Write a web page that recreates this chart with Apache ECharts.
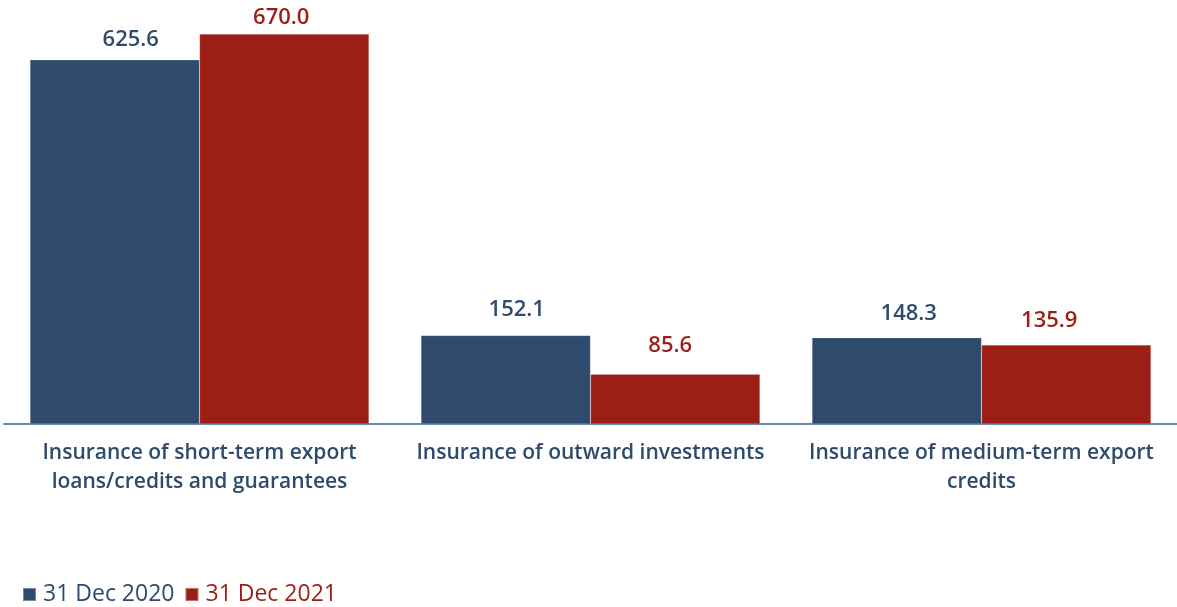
<!DOCTYPE html>
<html>
<head>
<meta charset="utf-8">
<script src="https://cdn.jsdelivr.net/npm/echarts@6/dist/echarts.min.js"></script>
<style>
  html, body { margin: 0; padding: 0; background: #ffffff; }
  #chart { width: 1177px; height: 607px; }
</style>
</head>
<body>
<div id="chart"></div>
<script>
// Insured exposure by product type
const categories = [
  'Insurance of short-term export\nloans/credits and guarantees',
  'Insurance of outward investments',
  'Insurance of medium-term export\ncredits'
];
const seriesNames = ['31 Dec 2020', '31 Dec 2021'];
const values2020 = [625.6, 152.1, 148.3];
const values2021 = [670.0, 85.6, 135.9];

const BLUE = '#2e4a6d';
const RED = '#9c1f16';
const FONT = '"Open Sans", "Noto Sans", sans-serif';

// small nudges of the value labels, per bar ([dx, dy] in px)
const labelShift2020 = [[16, -1], [11, -7], [12, -5]];
const labelShift2021 = [[-3, 3], [-5, -9], [-17, -5]];

const chart = echarts.init(document.getElementById('chart'), null, { renderer: 'canvas' });

function barSeries(name, values, shifts, color) {
  return {
    name: name,
    type: 'bar',
    data: values.map((v, i) => ({ value: v, label: { offset: shifts[i] } })),
    barGap: '0%',
    barCategoryGap: '13.3%',
    itemStyle: { color: color, borderColor: 'rgba(255,255,255,0.35)', borderWidth: 0.5 },
    label: {
      show: true,
      position: 'top',
      distance: 8,
      color: color,
      fontFamily: FONT,
      fontSize: 22,
      fontWeight: 600,
      formatter: p => p.value.toFixed(1)
    },
    emphasis: { disabled: true },
    animation: false
  };
}

chart.setOption({
  animation: false,
  grid: { left: 4, right: -2, top: 34, bottom: 183, containLabel: false },
  legend: {
    left: 22,
    top: 583,
    padding: 0,
    itemWidth: 13,
    itemHeight: 13,
    itemGap: 10,
    icon: 'rect',
    textStyle: { fontFamily: FONT, fontSize: 23, padding: [0, 0, 0, 2] },
    data: [
      { name: seriesNames[0], textStyle: { color: BLUE } },
      { name: seriesNames[1], textStyle: { color: RED } }
    ],
    selectedMode: false
  },
  xAxis: {
    type: 'category',
    data: categories,
    axisLine: { show: true, lineStyle: { color: '#6b86a8', width: 2 } },
    axisTick: { show: false },
    axisLabel: {
      color: BLUE,
      fontFamily: FONT,
      fontSize: 21,
      fontWeight: 600,
      lineHeight: 29,
      margin: 15,
      interval: 0
    }
  },
  yAxis: {
    type: 'value',
    min: 0,
    max: 670,
    show: false,
    splitLine: { show: false }
  },
  series: [
    barSeries(seriesNames[0], values2020, labelShift2020, BLUE),
    barSeries(seriesNames[1], values2021, labelShift2021, RED)
  ]
});
</script>
</body>
</html>
